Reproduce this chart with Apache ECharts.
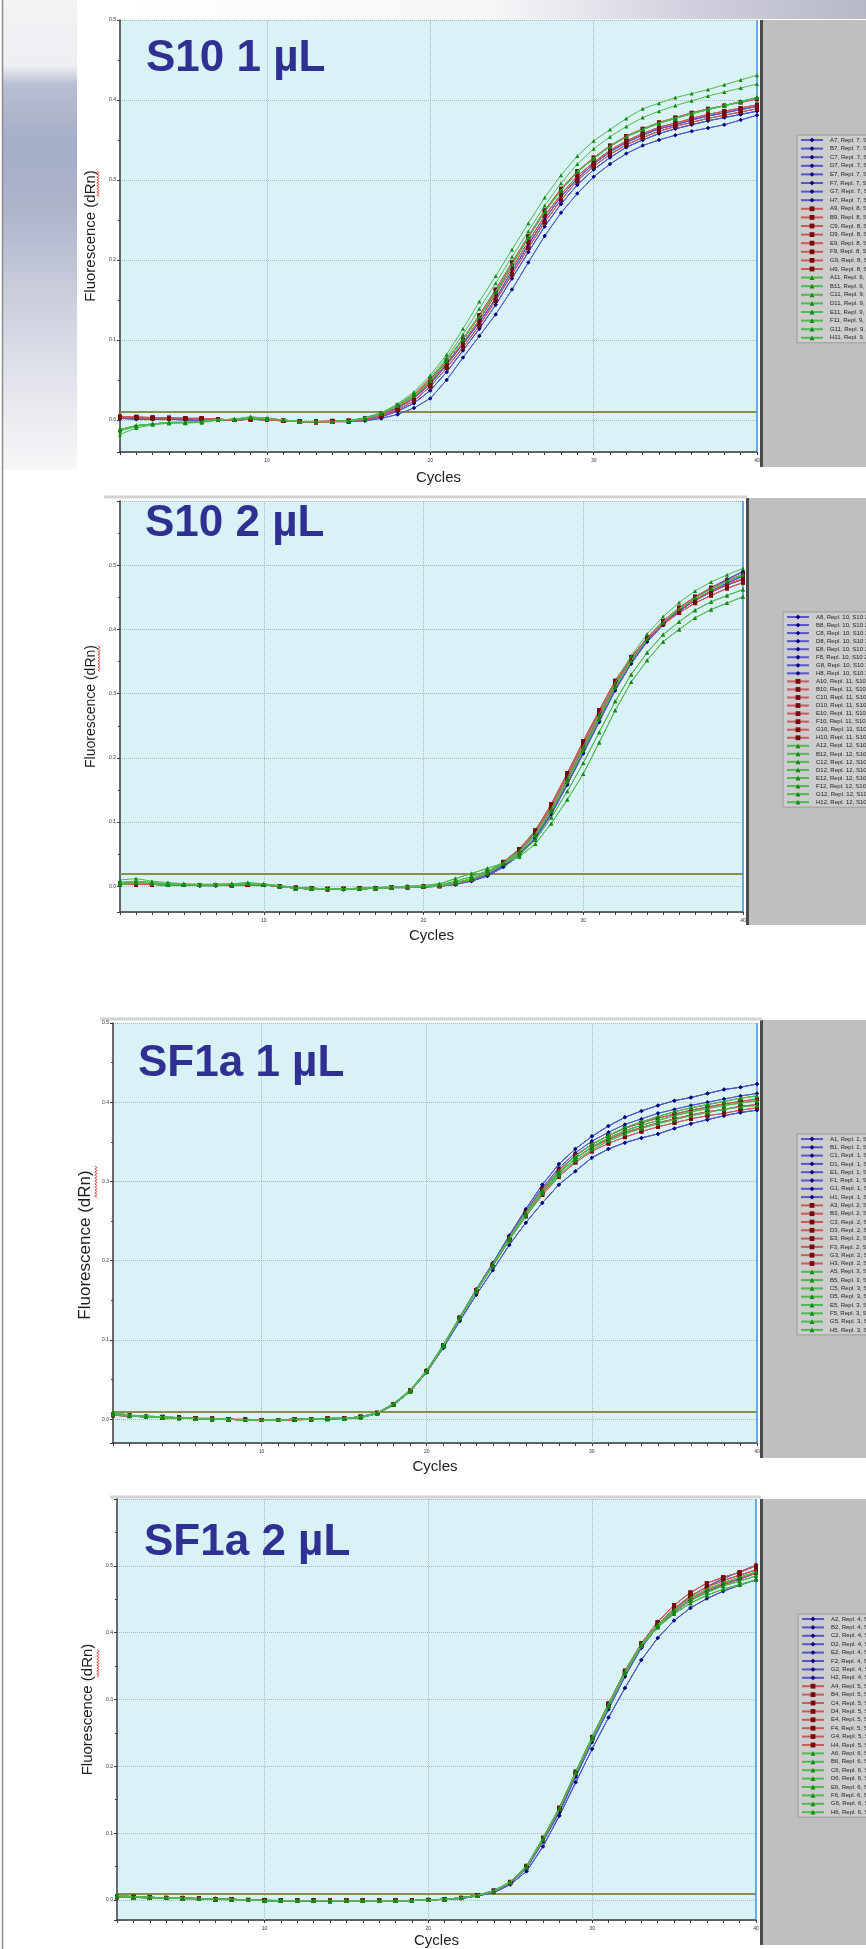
<!DOCTYPE html>
<html>
<head>
<meta charset="utf-8">
<script src="https://cdn.jsdelivr.net/npm/echarts@6/dist/echarts.min.js"></script>
<style>
html,body{margin:0;padding:0;background:#fff;}
#chart{width:866px;height:1949px;}
</style>
</head>
<body>
<div id="chart"></div>
<script>
// ---------------- DATA ----------------
const cycles = [1,2,3,4,5,6,7,8,9,10,11,12,13,14,15,16,17,18,19,20,21,22,23,24,25,26,27,28,29,30,31,32,33,34,35,36,37,38,39,40];
const xTickLabels = [10, 20, 30, 40];
const titles = ['S10 1 µL', 'S10 2 µL', 'SF1a 1 µL', 'SF1a 2 µL'];
const sampleNames = ['S10 1µL', 'S10 2µL', 'SF1a 1µL', 'SF1a 2µL'];
const wellRows = ['A','B','C','D','E','F','G','H'];
// [column, replicate] for the blue, red and green groups of each panel
const p1Wells = [['7','Repl. 7'], ['9','Repl. 8'], ['11','Repl. 9']];
const p2Wells = [['8','Repl. 10'], ['10','Repl. 11'], ['12','Repl. 12']];
const p3Wells = [['1','Repl. 1'], ['3','Repl. 2'], ['5','Repl. 3']];
const p4Wells = [['2','Repl. 4'], ['4','Repl. 5'], ['6','Repl. 6']];
const thresholds = [0.015, 0.020, 0.011, 0.013];

// Panel 1 : S10 1 µL
const p1_blue_a = [0.003,0.002,0.002,0.002,0.001,0.001,0.000,0.000,0.001,0.001,-0.001,-0.002,-0.002,-0.002,-0.002,-0.001,0.002,0.007,0.015,0.027,0.050,0.078,0.105,0.132,0.163,0.197,0.230,0.259,0.283,0.304,0.320,0.333,0.343,0.350,0.356,0.361,0.365,0.369,0.375,0.381];
const p1_blue_b = [0.002,0.002,0.001,0.001,0.001,0.001,0.000,0.000,0.001,0.000,-0.001,-0.002,-0.002,-0.002,-0.001,0.000,0.004,0.011,0.021,0.037,0.060,0.087,0.114,0.144,0.177,0.210,0.242,0.270,0.294,0.313,0.328,0.341,0.350,0.358,0.364,0.369,0.374,0.378,0.382,0.386];
const p1_blue_c = [0.002,0.001,0.001,0.001,0.000,0.000,0.000,0.000,0.001,0.001,-0.001,-0.002,-0.002,-0.002,-0.001,0.001,0.006,0.015,0.027,0.045,0.069,0.095,0.122,0.152,0.186,0.219,0.251,0.279,0.302,0.320,0.335,0.347,0.356,0.364,0.369,0.375,0.380,0.384,0.388,0.392];
const p1_red_a = [0.004,0.003,0.003,0.002,0.002,0.002,0.001,0.000,0.001,0.001,-0.001,-0.002,-0.002,-0.002,-0.001,0.002,0.007,0.016,0.028,0.047,0.071,0.097,0.125,0.157,0.190,0.223,0.255,0.282,0.305,0.322,0.337,0.349,0.358,0.366,0.371,0.377,0.382,0.386,0.390,0.394];
const p1_red_b = [0.004,0.004,0.003,0.003,0.002,0.002,0.001,0.000,0.001,0.001,-0.001,-0.002,-0.002,-0.001,-0.001,0.002,0.008,0.018,0.031,0.051,0.075,0.102,0.131,0.163,0.197,0.230,0.262,0.289,0.311,0.328,0.343,0.355,0.364,0.372,0.378,0.384,0.389,0.393,0.397,0.401];
const p1_red_c = [0.003,0.003,0.002,0.002,0.002,0.001,0.001,0.000,0.001,0.000,-0.001,-0.002,-0.003,-0.002,-0.002,0.001,0.005,0.013,0.024,0.042,0.065,0.091,0.118,0.149,0.182,0.215,0.247,0.275,0.299,0.317,0.332,0.344,0.353,0.361,0.367,0.372,0.377,0.381,0.385,0.389];
const p1_green_a = [-0.018,-0.010,-0.006,-0.004,-0.004,-0.003,0.000,0.001,0.004,0.002,0.000,-0.002,-0.002,-0.002,-0.001,0.003,0.009,0.020,0.035,0.056,0.082,0.114,0.148,0.180,0.213,0.246,0.278,0.306,0.330,0.349,0.363,0.377,0.389,0.396,0.403,0.408,0.413,0.419,0.425,0.431];
const p1_green_b = [-0.014,-0.008,-0.005,-0.004,-0.003,-0.003,0.000,0.001,0.004,0.002,0.000,-0.002,-0.002,-0.002,-0.001,0.003,0.009,0.019,0.033,0.053,0.078,0.107,0.139,0.171,0.204,0.236,0.268,0.296,0.320,0.339,0.354,0.367,0.378,0.386,0.393,0.399,0.405,0.410,0.415,0.420];
const p1_green_c = [-0.012,-0.007,-0.005,-0.003,-0.003,-0.002,0.000,0.001,0.003,0.002,0.000,-0.002,-0.002,-0.002,-0.001,0.002,0.008,0.018,0.030,0.049,0.074,0.101,0.129,0.160,0.194,0.228,0.260,0.287,0.310,0.327,0.342,0.354,0.363,0.371,0.377,0.383,0.388,0.393,0.398,0.403];

// Panel 2 : S10 2 µL
const p2_blue_a = [0.004,0.004,0.003,0.002,0.002,0.002,0.002,0.002,0.003,0.002,0.000,-0.003,-0.004,-0.004,-0.004,-0.004,-0.003,-0.002,-0.001,-0.001,0.001,0.004,0.009,0.018,0.032,0.050,0.076,0.114,0.160,0.209,0.258,0.306,0.347,0.381,0.407,0.428,0.446,0.460,0.472,0.483];
const p2_blue_b = [0.003,0.003,0.003,0.002,0.002,0.001,0.001,0.002,0.002,0.002,0.000,-0.003,-0.004,-0.005,-0.005,-0.004,-0.003,-0.002,-0.002,-0.001,0.000,0.003,0.008,0.016,0.030,0.048,0.074,0.112,0.158,0.207,0.256,0.305,0.347,0.382,0.409,0.431,0.450,0.465,0.478,0.490];
const p2_blue_c = [0.005,0.004,0.004,0.003,0.003,0.002,0.002,0.002,0.003,0.002,0.000,-0.002,-0.003,-0.004,-0.004,-0.004,-0.003,-0.002,-0.001,-0.001,0.001,0.004,0.010,0.019,0.034,0.053,0.080,0.118,0.165,0.214,0.263,0.311,0.351,0.384,0.409,0.429,0.445,0.458,0.469,0.478];
const p2_red_a = [0.004,0.004,0.003,0.003,0.002,0.002,0.002,0.002,0.003,0.002,0.000,-0.002,-0.003,-0.004,-0.004,-0.003,-0.003,-0.002,-0.001,-0.001,0.001,0.005,0.011,0.021,0.037,0.056,0.084,0.124,0.172,0.222,0.271,0.318,0.356,0.387,0.411,0.431,0.446,0.459,0.470,0.479];
const p2_red_b = [0.004,0.003,0.003,0.002,0.002,0.002,0.002,0.002,0.002,0.002,0.000,-0.003,-0.004,-0.004,-0.004,-0.004,-0.003,-0.002,-0.001,0.000,0.001,0.005,0.011,0.022,0.038,0.058,0.087,0.128,0.176,0.226,0.274,0.320,0.357,0.386,0.408,0.426,0.441,0.453,0.464,0.473];
const p2_red_c = [0.003,0.003,0.003,0.002,0.002,0.002,0.002,0.001,0.002,0.002,0.000,-0.003,-0.004,-0.005,-0.004,-0.004,-0.003,-0.002,-0.002,-0.001,0.000,0.004,0.010,0.020,0.035,0.054,0.081,0.120,0.167,0.217,0.266,0.314,0.354,0.387,0.413,0.434,0.451,0.465,0.476,0.486];
const p2_green_a = [0.010,0.012,0.008,0.006,0.004,0.003,0.003,0.004,0.006,0.004,0.001,-0.002,-0.003,-0.004,-0.004,-0.003,-0.002,-0.001,0.000,0.000,0.002,0.006,0.012,0.022,0.037,0.055,0.082,0.121,0.168,0.218,0.268,0.317,0.359,0.393,0.420,0.442,0.460,0.474,0.485,0.495];
const p2_green_b = [0.006,0.008,0.006,0.004,0.003,0.003,0.003,0.004,0.005,0.003,0.001,-0.002,-0.003,-0.004,-0.004,-0.003,-0.002,-0.001,0.000,0.001,0.004,0.012,0.020,0.028,0.036,0.046,0.066,0.098,0.135,0.175,0.224,0.274,0.318,0.352,0.381,0.400,0.418,0.431,0.441,0.451];
const p2_green_c = [0.003,0.005,0.004,0.003,0.003,0.002,0.002,0.003,0.004,0.003,0.000,-0.003,-0.004,-0.004,-0.004,-0.004,-0.003,-0.002,-0.001,0.000,0.002,0.008,0.015,0.024,0.035,0.049,0.072,0.107,0.148,0.192,0.240,0.288,0.330,0.364,0.392,0.412,0.430,0.443,0.453,0.462];
const p2_green_d = [0.005,0.006,0.005,0.003,0.003,0.002,0.002,0.003,0.004,0.003,0.000,-0.003,-0.004,-0.004,-0.004,-0.004,-0.003,-0.002,-0.001,0.000,0.001,0.005,0.011,0.020,0.035,0.053,0.079,0.117,0.163,0.212,0.261,0.310,0.351,0.385,0.411,0.432,0.449,0.463,0.475,0.485];

// Panel 3 : SF1a 1 µL
const p3_blue_a = [0.006,0.004,0.003,0.002,0.002,0.001,0.000,0.000,-0.001,-0.001,-0.001,0.000,0.000,0.001,0.001,0.003,0.008,0.019,0.036,0.061,0.093,0.129,0.164,0.197,0.232,0.265,0.296,0.322,0.341,0.357,0.370,0.381,0.389,0.396,0.402,0.406,0.411,0.416,0.419,0.423];
const p3_blue_b = [0.005,0.004,0.003,0.002,0.001,0.001,0.000,0.000,-0.001,-0.001,-0.001,0.000,0.000,0.000,0.001,0.002,0.007,0.018,0.035,0.059,0.090,0.124,0.157,0.188,0.220,0.248,0.273,0.296,0.313,0.330,0.341,0.349,0.355,0.360,0.367,0.373,0.378,0.383,0.387,0.390];
const p3_blue_c = [0.007,0.005,0.003,0.002,0.002,0.001,0.000,0.000,-0.001,-0.001,-0.001,0.000,0.000,0.001,0.001,0.003,0.008,0.019,0.036,0.061,0.093,0.128,0.163,0.196,0.230,0.262,0.292,0.317,0.336,0.351,0.362,0.372,0.379,0.386,0.391,0.396,0.400,0.404,0.408,0.411];
const p3_red_a = [0.006,0.004,0.003,0.002,0.002,0.001,0.000,0.000,-0.001,-0.001,-0.001,0.000,0.000,0.001,0.001,0.003,0.008,0.019,0.036,0.061,0.093,0.128,0.162,0.194,0.228,0.259,0.287,0.311,0.329,0.343,0.353,0.362,0.368,0.374,0.379,0.384,0.388,0.391,0.395,0.397];
const p3_red_b = [0.005,0.004,0.003,0.002,0.002,0.001,0.001,0.000,-0.001,-0.001,-0.001,-0.001,0.000,0.001,0.001,0.003,0.008,0.019,0.036,0.061,0.093,0.128,0.163,0.195,0.229,0.261,0.290,0.314,0.333,0.347,0.358,0.367,0.374,0.380,0.385,0.390,0.394,0.398,0.401,0.404];
const p3_red_c = [0.006,0.005,0.003,0.003,0.002,0.001,0.000,0.000,0.000,-0.001,-0.001,0.000,0.000,0.000,0.001,0.003,0.007,0.019,0.035,0.060,0.092,0.127,0.161,0.193,0.226,0.256,0.283,0.306,0.324,0.338,0.348,0.356,0.363,0.369,0.374,0.379,0.383,0.386,0.390,0.393];
const p3_green_a = [0.009,0.005,0.004,0.003,0.002,0.001,0.001,0.000,-0.001,-0.001,-0.001,0.000,0.000,0.001,0.001,0.003,0.008,0.020,0.037,0.062,0.094,0.129,0.163,0.195,0.229,0.260,0.289,0.313,0.332,0.347,0.358,0.368,0.375,0.382,0.388,0.393,0.397,0.401,0.405,0.408];
const p3_green_b = [0.007,0.004,0.003,0.002,0.002,0.001,0.000,0.000,-0.001,-0.001,-0.001,0.000,0.000,0.001,0.001,0.003,0.008,0.019,0.036,0.061,0.093,0.128,0.162,0.194,0.227,0.258,0.286,0.310,0.329,0.344,0.355,0.364,0.371,0.377,0.383,0.388,0.392,0.396,0.399,0.402];
const p3_green_c = [0.006,0.004,0.003,0.002,0.001,0.001,0.000,0.000,-0.001,-0.001,-0.001,0.000,0.000,0.001,0.001,0.002,0.007,0.019,0.035,0.060,0.092,0.127,0.161,0.193,0.226,0.257,0.285,0.308,0.326,0.340,0.351,0.360,0.367,0.373,0.378,0.383,0.387,0.391,0.394,0.396];

// Panel 4 : SF1a 2 µL
const p4_blue_a = [0.004,0.004,0.003,0.003,0.002,0.002,0.001,0.001,0.000,-0.001,-0.001,-0.001,-0.002,-0.002,-0.001,-0.001,-0.001,-0.001,-0.001,0.000,0.001,0.002,0.006,0.011,0.023,0.043,0.080,0.126,0.176,0.226,0.273,0.317,0.359,0.392,0.418,0.437,0.451,0.462,0.471,0.479];
const p4_blue_b = [0.005,0.004,0.004,0.003,0.003,0.002,0.001,0.001,0.000,-0.001,-0.001,-0.001,-0.001,-0.001,-0.001,-0.001,-0.001,-0.001,-0.001,0.000,0.001,0.003,0.007,0.013,0.026,0.049,0.090,0.134,0.188,0.240,0.289,0.338,0.379,0.408,0.430,0.448,0.461,0.472,0.480,0.489];
const p4_blue_c = [0.006,0.005,0.004,0.003,0.003,0.002,0.002,0.001,0.000,-0.001,-0.001,-0.001,-0.001,-0.001,-0.001,-0.001,-0.001,-0.001,-0.001,0.000,0.001,0.003,0.007,0.012,0.025,0.047,0.087,0.131,0.184,0.236,0.285,0.334,0.377,0.409,0.434,0.454,0.469,0.481,0.491,0.501];
const p4_red_a = [0.005,0.004,0.004,0.003,0.003,0.002,0.001,0.001,0.000,-0.001,-0.001,-0.001,-0.001,-0.001,-0.001,-0.001,-0.001,-0.001,-0.001,0.000,0.001,0.003,0.007,0.014,0.027,0.051,0.093,0.138,0.192,0.244,0.294,0.343,0.384,0.416,0.441,0.460,0.474,0.483,0.490,0.500];
const p4_red_b = [0.004,0.004,0.003,0.003,0.002,0.002,0.001,0.001,0.000,-0.001,-0.001,-0.001,-0.001,-0.002,-0.001,-0.001,-0.001,-0.001,-0.001,0.000,0.001,0.003,0.007,0.013,0.026,0.050,0.091,0.136,0.190,0.242,0.291,0.340,0.381,0.412,0.436,0.455,0.468,0.478,0.486,0.494];
const p4_red_c = [0.005,0.005,0.004,0.003,0.003,0.002,0.001,0.001,0.000,0.000,-0.001,-0.001,-0.001,-0.001,-0.001,-0.001,-0.001,-0.001,-0.001,0.000,0.001,0.003,0.007,0.013,0.026,0.049,0.090,0.135,0.189,0.241,0.290,0.339,0.380,0.410,0.432,0.450,0.463,0.473,0.481,0.489];
const p4_green_a = [0.007,0.005,0.004,0.003,0.003,0.002,0.001,0.001,0.000,-0.001,-0.001,-0.001,-0.001,-0.001,-0.001,-0.001,-0.001,-0.001,-0.001,0.000,0.001,0.003,0.007,0.014,0.027,0.050,0.092,0.137,0.191,0.243,0.292,0.341,0.382,0.410,0.431,0.448,0.460,0.470,0.477,0.485];
const p4_green_b = [0.006,0.004,0.004,0.003,0.002,0.002,0.001,0.001,0.000,-0.001,-0.001,-0.001,-0.001,-0.001,-0.001,-0.001,-0.001,-0.001,-0.001,0.000,0.001,0.003,0.007,0.013,0.026,0.049,0.091,0.136,0.190,0.241,0.290,0.339,0.380,0.408,0.428,0.444,0.456,0.465,0.472,0.479];
const p4_green_c = [0.005,0.004,0.003,0.003,0.002,0.002,0.001,0.000,0.000,-0.001,-0.001,-0.001,-0.001,-0.001,-0.001,-0.001,-0.001,-0.001,-0.001,0.000,0.001,0.003,0.007,0.014,0.027,0.051,0.093,0.138,0.192,0.244,0.293,0.342,0.383,0.412,0.434,0.452,0.465,0.475,0.483,0.491];

// curves used by the 8 wells of each group (blue, red, green)
const panelCurves = [
  [[p1_blue_a,p1_blue_b,p1_blue_c,p1_blue_a,p1_blue_b,p1_blue_c,p1_blue_b,p1_blue_c],
   [p1_red_a,p1_red_b,p1_red_c,p1_red_a,p1_red_b,p1_red_c,p1_red_a,p1_red_c],
   [p1_green_a,p1_green_b,p1_green_c,p1_green_c,p1_green_c,p1_green_c,p1_green_c,p1_green_c]],
  [[p2_blue_a,p2_blue_b,p2_blue_c,p2_blue_a,p2_blue_b,p2_blue_c,p2_blue_a,p2_blue_b],
   [p2_red_a,p2_red_b,p2_red_c,p2_red_a,p2_red_b,p2_red_c,p2_red_a,p2_red_b],
   [p2_green_a,p2_green_b,p2_green_c,p2_green_d,p2_green_d,p2_green_b,p2_green_c,p2_green_d]],
  [[p3_blue_a,p3_blue_b,p3_blue_c,p3_blue_a,p3_blue_b,p3_blue_c,p3_blue_a,p3_blue_b],
   [p3_red_a,p3_red_b,p3_red_c,p3_red_a,p3_red_b,p3_red_c,p3_red_a,p3_red_b],
   [p3_green_a,p3_green_b,p3_green_c,p3_green_a,p3_green_b,p3_green_c,p3_green_a,p3_green_b]],
  [[p4_blue_a,p4_blue_b,p4_blue_c,p4_blue_a,p4_blue_b,p4_blue_c,p4_blue_a,p4_blue_b],
   [p4_red_a,p4_red_b,p4_red_c,p4_red_a,p4_red_b,p4_red_c,p4_red_a,p4_red_b],
   [p4_green_a,p4_green_b,p4_green_c,p4_green_a,p4_green_b,p4_green_c,p4_green_a,p4_green_b]]
];
const panelWells = [p1Wells, p2Wells, p3Wells, p4Wells];
const yRanges = [[-0.04, 0.5], [-0.04, 0.6], [-0.03, 0.5], [-0.03, 0.6]];

// ---------------- LAYOUT / STYLE ----------------
const L = {
  grids: [
    {left:120, top:20, width:637, height:432},
    {left:120, top:501, width:623, height:411},
    {left:113, top:1023, width:644, height:420},
    {left:117, top:1499, width:639, height:428}
  ],
  ySplit: [5, 6, 5, 6],
  yShowMax: [true, false, true, false],
  yNameGap: [22, 22, 19, 22],
  yNameSize: [15, 14, 17, 15],
  yNamePad: [[0,0,0,0],[0,0,0,0],[0,24,0,0],[0,0,0,0]],
  xNameGap: [18, 16, 16, 13],
  titlePos: [[146,59],[145,524],[138,1064],[144,1543]],
  legends: [
    {left:797, top:135, gap:2.6},
    {left:783, top:612, gap:2.05},
    {left:797, top:1134, gap:2.3},
    {left:798, top:1614, gap:2.4}
  ],
  grayArea: [
    {x:763, y:20, w:103, h:447, sep:761.5},
    {x:749, y:498, w:117, h:427, sep:747.5},
    {x:763, y:1020, w:103, h:438, sep:761.5},
    {x:763, y:1499, w:103, h:446, sep:761.5}
  ],
  squiggle: [[98,171,197],[99,646,672],[96,1166,1198],[98,1650,1677]],
  frameTop: [[104,497,747],[100,1019,762],[110,1497,761]],
  groupStyle: [
    {symbol:'diamond', marker:'#0a0a80', line:'#5656c8'},
    {symbol:'rect', marker:'#7a0a0a', line:'#c85a5a'},
    {symbol:'triangle', marker:'#108a10', line:'#52b852'}
  ]
};
const FONT = '"Liberation Sans", Arial, sans-serif';
const GRID_LINE = {type:'dotted', color:'#a3b8bd', width:1};

const chart = echarts.init(document.getElementById('chart'), null, {renderer:'canvas', width:866, height:1949});

const grid = [], xAxis = [], yAxis = [], legend = [], series = [], graphicEls = [];

// decorative slide background
graphicEls.push({type:'rect', silent:true, z:-20, shape:{x:3,y:0,width:74,height:470},
  style:{fill:{type:'linear',x:0,y:0,x2:0,y2:1,colorStops:[
    {offset:0,color:'#f3f3f5'},{offset:0.14,color:'#eeeff3'},{offset:0.18,color:'#b9bfd3'},
    {offset:0.3,color:'#a6adc7'},{offset:0.44,color:'#adb3cb'},{offset:0.62,color:'#c9cddb'},
    {offset:0.8,color:'#e1e3ea'},{offset:1,color:'#f7f7f9'}]}}});
graphicEls.push({type:'rect', silent:true, z:-20, shape:{x:120,y:0,width:746,height:19},
  style:{fill:{type:'linear',x:0,y:0,x2:1,y2:0,colorStops:[
    {offset:0,color:'#ffffff'},{offset:0.5,color:'#f6f6f8'},{offset:0.78,color:'#cfcfdc'},{offset:1,color:'#b6b8c6'}]}}});
graphicEls.push({type:'line', silent:true, z:-5, shape:{x1:2.5,y1:0,x2:2.5,y2:1949}, style:{stroke:'#8c8c8c', lineWidth:1.5}});

for (let k = 0; k < 4; k++) {
  const g = L.grids[k];
  grid.push({left:g.left, top:g.top, width:g.width, height:g.height, show:true,
    backgroundColor:'#d9f2f6', borderWidth:0, containLabel:false});

  xAxis.push({type:'value', gridIndex:k, min:cycles[0], max:cycles[cycles.length-1], splitNumber:4,
    axisLine:{show:true, onZero:false, lineStyle:{color:'#3a3a3a', width:1.5}},
    axisTick:{show:true, customValues:cycles, length:3, lineStyle:{color:'#3a3a3a'}},
    axisLabel:{show:true, customValues:xTickLabels, fontSize:5, color:'#333', margin:6, fontFamily:FONT},
    splitLine:{show:false},
    name:'Cycles', nameLocation:'middle', nameGap:L.xNameGap[k], nameMoveOverlap:false,
    nameTextStyle:{fontSize:15, color:'#1e1e1e', fontFamily:FONT}});

  yAxis.push({type:'value', gridIndex:k, min:yRanges[k][0], max:yRanges[k][1], splitNumber:L.ySplit[k],
    axisLine:{show:true, onZero:false, lineStyle:{color:'#3a3a3a', width:1.5}},
    axisTick:{show:true, length:3, lineStyle:{color:'#3a3a3a'}},
    minorTick:{show:true, splitNumber:2, length:2, lineStyle:{color:'#3a3a3a'}},
    axisLabel:{fontSize:5, color:'#333', margin:4, showMinLabel:false, showMaxLabel:L.yShowMax[k],
      formatter:v => v.toFixed(1), fontFamily:FONT},
    splitLine:{show:true, lineStyle:GRID_LINE},
    name:'Fluorescence (dRn)', nameLocation:'middle', nameRotate:90, nameGap:L.yNameGap[k], nameMoveOverlap:false,
    nameTextStyle:{fontSize:L.yNameSize[k], color:'#1e1e1e', fontFamily:FONT, padding:L.yNamePad[k]}});

  // gray legend panel + separator
  const ga = L.grayArea[k];
  graphicEls.push({type:'rect', silent:true, z:-10, shape:{x:ga.x,y:ga.y,width:ga.w,height:ga.h}, style:{fill:'#bfbfbf'}});
  graphicEls.push({type:'line', silent:true, z:-9, shape:{x1:ga.sep,y1:ga.y,x2:ga.sep,y2:ga.y+ga.h}, style:{stroke:'#4a4a4a', lineWidth:3}});

  // title
  graphicEls.push({type:'text', silent:true, z:10, x:L.titlePos[k][0], y:L.titlePos[k][1],
    style:{text:titles[k], fill:'#2e3192', font:'bold 44px ' + FONT, textVerticalAlign:'middle', verticalAlign:'middle'}});

  // spell-check squiggle under "dRn"
  const sq = L.squiggle[k]; const pts = [];
  for (let y = sq[1], i = 0; y <= sq[2]; y += 1.5, i++) pts.push([sq[0] + (i % 2 ? 1.2 : -1.2), y]);
  graphicEls.push({type:'polyline', silent:true, z:10, shape:{points:pts}, style:{stroke:'#e03030', lineWidth:0.8, fill:null}});

  const names = [];
  for (let gi = 0; gi < 3; gi++) {
    const st = L.groupStyle[gi];
    for (let i = 0; i < 8; i++) {
      const w = panelWells[k][gi];
      const name = wellRows[i] + w[0] + ', ' + w[1] + ', ' + sampleNames[k];
      names.push(name);
      const vals = panelCurves[k][gi][i];
      const s = {
        type:'line', name:name, xAxisIndex:k, yAxisIndex:k,
        data: cycles.map((c, j) => [c, vals[j]]),
        symbol:st.symbol, symbolSize:4, showSymbol:true, showAllSymbol:true,
        lineStyle:{color:st.line, width:1}, itemStyle:{color:st.marker},
        emphasis:{disabled:true}, animation:false, z:2 + gi
      };
      if (gi === 0 && i === 0) {
        const mlData = xTickLabels.slice(0, -1).map(v => ({xAxis:v, lineStyle:GRID_LINE}));
        mlData.push({yAxis:thresholds[k], lineStyle:{color:'#8d8d52', width:2, type:'solid'}});
        mlData.push({xAxis:cycles[cycles.length-1], lineStyle:{color:'#3d8fe0', width:1.5, type:'solid'}});
        s.markLine = {silent:true, symbol:'none', animation:false, label:{show:false}, z:1, data:mlData};
      }
      series.push(s);
    }
  }
  const lg = L.legends[k];
  legend.push({data:names, orient:'vertical', left:lg.left, top:lg.top, itemWidth:22, itemHeight:6,
    itemGap:lg.gap, padding:[2,2,2,3], backgroundColor:'#cdcdcd', borderColor:'#9a9a9a', borderWidth:1,
    selectedMode:false, textStyle:{fontSize:6, color:'#222', fontFamily:FONT, padding:[0,0,0,2]}});
}
// screenshot frame lines
L.frameTop.forEach(f => graphicEls.push({type:'line', silent:true, z:-5, shape:{x1:f[0],y1:f[1],x2:f[2],y2:f[1]}, style:{stroke:'#d4d4d4', lineWidth:3}}));

chart.setOption({
  backgroundColor:'#ffffff',
  animation:false,
  grid, xAxis, yAxis, legend, series,
  graphic:{elements:graphicEls}
});
</script>
</body>
</html>
